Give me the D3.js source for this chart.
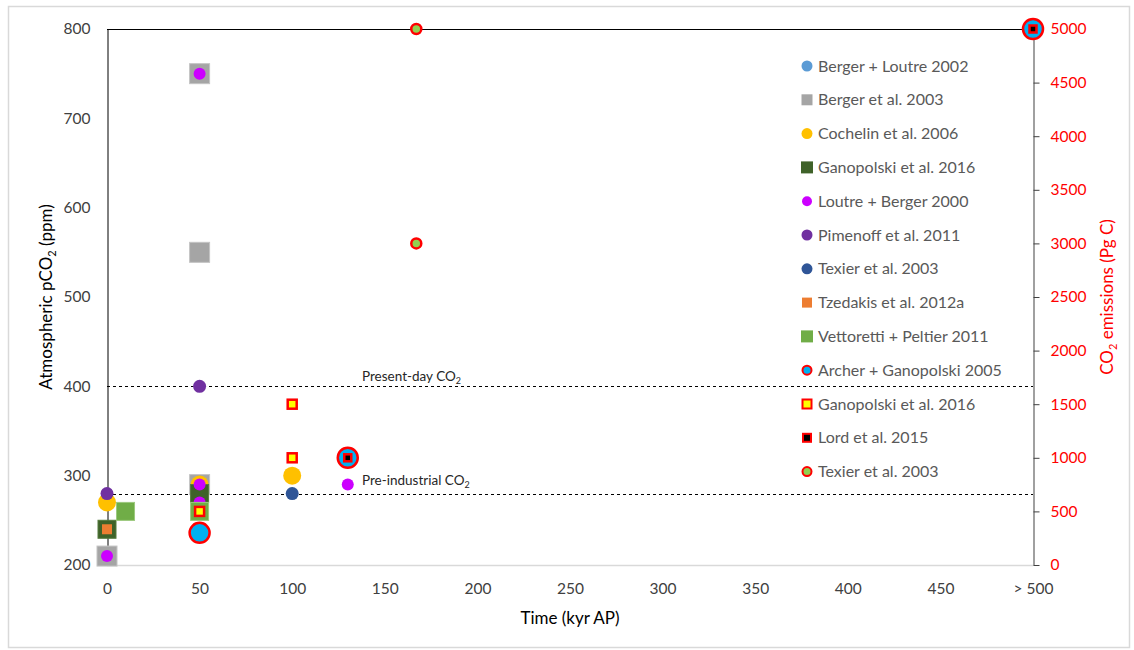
<!DOCTYPE html>
<html>
<head>
<meta charset="utf-8">
<script src="https://cdn.jsdelivr.net/npm/d3@7"></script>
<style>
  body { margin: 0; background: #fff; }
  text { font-family: Lato, "Open Sans", sans-serif; }
</style>
</head>
<body>
<div id="chart"></div>
<script>

// ---- data (time kyr AP, value) ----
// primary axis: atmospheric pCO2 (ppm)
var bergerLoutre2002   = [[50, 235]];
var berger2003         = [[0, 210], [50, 750], [50, 550], [50, 290]];
var cochelin2006       = [[0, 270], [50, 290], [100, 300]];
var ganopolski2016     = [[0, 240], [50, 280]];
var loutreBerger2000   = [[0, 210], [50, 750], [50, 290], [50, 270], [130, 290]];
var pimenoff2011       = [[0, 280], [50, 400]];
var texier2003         = [[100, 280]];
var tzedakis2012a      = [[0, 240]];
var vettorettiPeltier  = [[10, 260], [50, 260]];
// secondary axis: CO2 emissions (Pg C)
var archerGanopolski   = [[50, 300], [130, 1000], [500, 5000]];
var ganopolski2016E    = [[50, 500], [100, 1500], [100, 1000]];
var lord2015E          = [[130, 1000], [500, 5000]];
var texier2003E        = [[167, 5000], [167, 3000]];

var xTicks = [0, 50, 100, 150, 200, 250, 300, 350, 400, 450, 500];
var yTicks = [200, 300, 400, 500, 600, 700, 800];
var y2Ticks = [0, 500, 1000, 1500, 2000, 2500, 3000, 3500, 4000, 4500, 5000];
var presentDay = 400, preIndustrial = 280;

var W = 1134, H = 650;
var pLeft = 107, pRight = 1033, pTop = 29, pBottom = 565;

var x = d3.scaleLinear().domain([0, 500]).range([pLeft, pRight]);
var y = d3.scaleLinear().domain([200, 800]).range([pBottom, pTop]);
var y2 = d3.scaleLinear().domain([0, 5000]).range([pBottom, pTop]);

var series = [
  {name: "Berger + Loutre 2002", data: bergerLoutre2002, axis: y, shape: "circle", size: 10, fill: "#5B9BD5", lsize: 11},
  {name: "Berger et al. 2003", data: berger2003, axis: y, shape: "square", size: 20, fill: "#A5A5A5", stroke: "#C4C4C4", sw: 1, lsize: 11},
  {name: "Cochelin et al. 2006", data: cochelin2006, axis: y, shape: "circle", size: 18, fill: "#FFC000", lsize: 11},
  {name: "Ganopolski et al. 2016", data: ganopolski2016, axis: y, shape: "square", size: 18, fill: "#3F6229", stroke: "#557a3e", sw: 1, lsize: 12},
  {name: "Loutre + Berger 2000", data: loutreBerger2000, axis: y, shape: "circle", size: 12, fill: "#CC00FF", lsize: 10},
  {name: "Pimenoff et al. 2011", data: pimenoff2011, axis: y, shape: "circle", size: 13, fill: "#7030A0", lsize: 11},
  {name: "Texier et al. 2003", data: texier2003, axis: y, shape: "circle", size: 13, fill: "#2F5597", lsize: 11},
  {name: "Tzedakis et al. 2012a", data: tzedakis2012a, axis: y, shape: "square", size: 10, fill: "#ED7D31", lsize: 10},
  {name: "Vettoretti + Peltier 2011", data: vettorettiPeltier, axis: y, shape: "square", size: 18, fill: "#70AD47", stroke: "#9CC97E", sw: 1, lsize: 12},
  {name: "Archer + Ganopolski 2005", data: archerGanopolski, axis: y2, shape: "circle", size: 20, fill: "#00B0F0", stroke: "#FF0000", sw: 2.5, lsize: 9},
  {name: "Ganopolski et al. 2016", data: ganopolski2016E, axis: y2, shape: "square", size: 9, fill: "#FFFF00", stroke: "#FF0000", sw: 2.5, lsize: 9},
  {name: "Lord et al. 2015", data: lord2015E, axis: y2, shape: "square", size: 7, fill: "#000000", stroke: "#FF0000", sw: 2.5, lsize: 8},
  {name: "Texier et al. 2003", data: texier2003E, axis: y2, shape: "circle", size: 10, fill: "#92D050", stroke: "#FF0000", sw: 2.5, lsize: 9}
];

var svg = d3.select("#chart").append("svg")
  .attr("width", W).attr("height", H);

// chart frame
svg.append("rect")
  .attr("x", 8.5).attr("y", 6.5).attr("width", 1121).attr("height", 641)
  .attr("fill", "#fff").attr("stroke", "#D9D9D9").attr("stroke-width", 1.5);

// bottom axis line (light) and top border line
svg.append("line").attr("x1", pLeft).attr("x2", pRight).attr("y1", pBottom + 0.5).attr("y2", pBottom + 0.5)
  .attr("stroke", "#D9D9D9").attr("stroke-width", 1.5);
svg.append("line").attr("x1", pLeft).attr("x2", pRight).attr("y1", pTop + 0.5).attr("y2", pTop + 0.5)
  .attr("stroke", "#000").attr("stroke-width", 1);

// reference lines
[presentDay, preIndustrial].forEach(function(v) {
  svg.append("line")
    .attr("x1", pLeft).attr("x2", pRight)
    .attr("y1", Math.round(y(v)) + 0.5).attr("y2", Math.round(y(v)) + 0.5)
    .attr("stroke", "#000").attr("stroke-width", 1)
    .attr("stroke-dasharray", "3,3");
});

var note1 = svg.append("text").attr("x", 362).attr("y", y(presentDay) - 5)
  .attr("font-size", 13.5).attr("fill", "#262626").text("Present-day CO");
note1.append("tspan").attr("font-size", 9).attr("dy", 3).text("2");
var note2 = svg.append("text").attr("x", 362).attr("y", y(preIndustrial) - 9)
  .attr("font-size", 13.5).attr("fill", "#262626").text("Pre-industrial CO");
note2.append("tspan").attr("font-size", 9).attr("dy", 3).text("2");

// left axis
var gy = svg.append("g").attr("transform", "translate(" + (pLeft + 0.5) + ",0)")
  .call(d3.axisLeft(y).tickValues(yTicks).tickSize(0).tickPadding(17));
gy.select(".domain").attr("stroke", "#000");
gy.selectAll("text").attr("font-size", 15.5).attr("fill", "#404040").attr("font-family", "Lato, sans-serif");

// right axis
var gy2 = svg.append("g").attr("transform", "translate(" + (pRight + 0.5) + ",0)")
  .call(d3.axisRight(y2).tickValues(y2Ticks).tickSize(6).tickSizeOuter(0).tickPadding(11)
    .tickFormat(d3.format("d")));
gy2.select(".domain").attr("stroke", "#808080").attr("stroke-width", 1.5);
gy2.selectAll(".tick line").attr("stroke", "#404040");
gy2.selectAll("text").attr("font-size", 15.5).attr("fill", "#FF0000").attr("font-family", "Lato, sans-serif");

// bottom axis
var gx = svg.append("g").attr("transform", "translate(0," + pBottom + ")")
  .call(d3.axisBottom(x).tickValues(xTicks).tickSize(0).tickPadding(18)
    .tickFormat(function(d) { return d === 500 ? "> 500" : d; }));
gx.select(".domain").remove();
gx.selectAll("text").attr("font-size", 15.5).attr("fill", "#404040").attr("font-family", "Lato, sans-serif");

// axis titles
var t1 = svg.append("text")
  .attr("transform", "translate(52," + ((pTop + pBottom) / 2) + ") rotate(-90)")
  .attr("text-anchor", "middle").attr("font-size", 17).attr("fill", "#000")
  .text("Atmospheric pCO");
t1.append("tspan").attr("font-size", 11).attr("dy", 4).text("2");
t1.append("tspan").attr("dy", -4).text(" (ppm)");

var t2 = svg.append("text")
  .attr("transform", "translate(1113," + ((pTop + pBottom) / 2) + ") rotate(-90)")
  .attr("text-anchor", "middle").attr("font-size", 17).attr("fill", "#FF0000")
  .text("CO");
t2.append("tspan").attr("font-size", 11).attr("dy", 4).text("2");
t2.append("tspan").attr("dy", -4).text(" emissions (Pg C)");

svg.append("text").attr("x", (pLeft + pRight) / 2).attr("y", 624)
  .attr("text-anchor", "middle").attr("font-size", 17).attr("fill", "#000")
  .text("Time (kyr AP)");

// markers
function drawMarker(g, s, cx, cy, size) {
  if (s.shape === "circle") {
    g.append("circle").attr("cx", cx).attr("cy", cy).attr("r", size / 2)
      .attr("fill", s.fill).attr("stroke", s.stroke || "none").attr("stroke-width", s.sw || 0);
  } else {
    g.append("rect").attr("x", cx - size / 2).attr("y", cy - size / 2)
      .attr("width", size).attr("height", size)
      .attr("fill", s.fill).attr("stroke", s.stroke || "none").attr("stroke-width", s.sw || 0);
  }
}

var marks = svg.append("g");
series.forEach(function(s) {
  var g = marks.append("g");
  s.data.forEach(function(d) {
    drawMarker(g, s, x(d[0]), s.axis(d[1]), s.size);
  });
});

// legend
var legend = svg.append("g");
series.forEach(function(s, i) {
  var ly = 66 + i * 33.8;
  var g = legend.append("g");
  var red = s.stroke === "#FF0000";
  var ls = Object.assign({}, s, {sw: red ? 2 : 0, stroke: red ? s.stroke : "none"});
  drawMarker(g, ls, 807, ly, s.lsize);
  g.append("text").attr("x", 818).attr("y", ly + 5.5)
    .attr("font-size", 16).attr("fill", "#595959").text(s.name);
});

</script>
</body>
</html>
